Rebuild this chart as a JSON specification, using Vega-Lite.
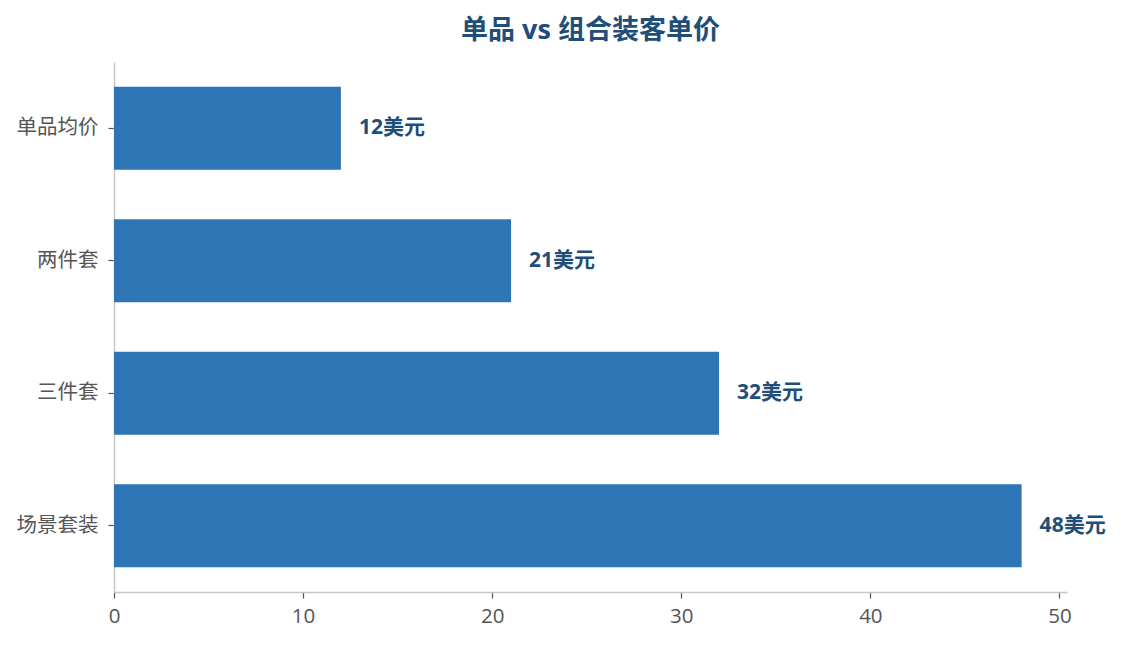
{
  "$schema": "https://vega.github.io/schema/vega-lite/v6.json",
  "autosize": {"type": "none"},
  "padding": {"left": 114, "top": 62, "right": 55, "bottom": 53},
  "width": 953,
  "height": 530,
  "background": "white",
  "title": {
    "text": "单品 vs 组合装客单价",
    "font": "Open Sans, Noto Sans CJK SC",
    "fontSize": 27,
    "fontWeight": "bold",
    "color": "#1f4e79",
    "anchor": "middle",
    "offset": 17
  },
  "config": {
    "view": {"stroke": null},
    "font": "Open Sans, Noto Sans CJK SC"
  },
  "data": {
    "values": [
      {"item": "单品均价", "price": 12, "label": "12美元"},
      {"item": "两件套", "price": 21, "label": "21美元"},
      {"item": "三件套", "price": 32, "label": "32美元"},
      {"item": "场景套装", "price": 48, "label": "48美元"}
    ]
  },
  "encoding": {
    "y": {
      "field": "item",
      "type": "nominal",
      "sort": null,
      "scale": {"paddingInner": 0.375, "paddingOuter": 0.1875},
      "axis": {
        "title": null,
        "domainColor": "#c8c8c8",
        "domainWidth": 1.5,
        "tickColor": "#555555",
        "tickSize": 6,
        "tickWidth": 1.2,
        "labelColor": "#555555",
        "labelFontSize": 20.5,
        "labelFont": "Open Sans, Noto Sans CJK SC",
        "labelPadding": 10,
        "grid": false
      }
    },
    "x": {
      "field": "price",
      "type": "quantitative",
      "scale": {"domain": [0, 50.4], "nice": false},
      "axis": {
        "title": null,
        "values": [0, 10, 20, 30, 40, 50],
        "labelFlush": false,
        "domainColor": "#c8c8c8",
        "domainWidth": 1.5,
        "tickColor": "#555555",
        "tickSize": 6,
        "tickWidth": 1.2,
        "labelColor": "#555555",
        "labelFontSize": 20.5,
        "labelFont": "Open Sans, Noto Sans CJK SC",
        "labelPadding": 8,
        "grid": false
      }
    }
  },
  "layer": [
    {"mark": {"type": "bar", "color": "#2e75b6"}},
    {
      "mark": {
        "type": "text",
        "align": "left",
        "baseline": "middle",
        "dx": 18,
        "fontSize": 21,
        "fontWeight": "bold",
        "color": "#1f4e79",
        "font": "Open Sans, Noto Sans CJK SC"
      },
      "encoding": {"text": {"field": "label"}}
    }
  ]
}
